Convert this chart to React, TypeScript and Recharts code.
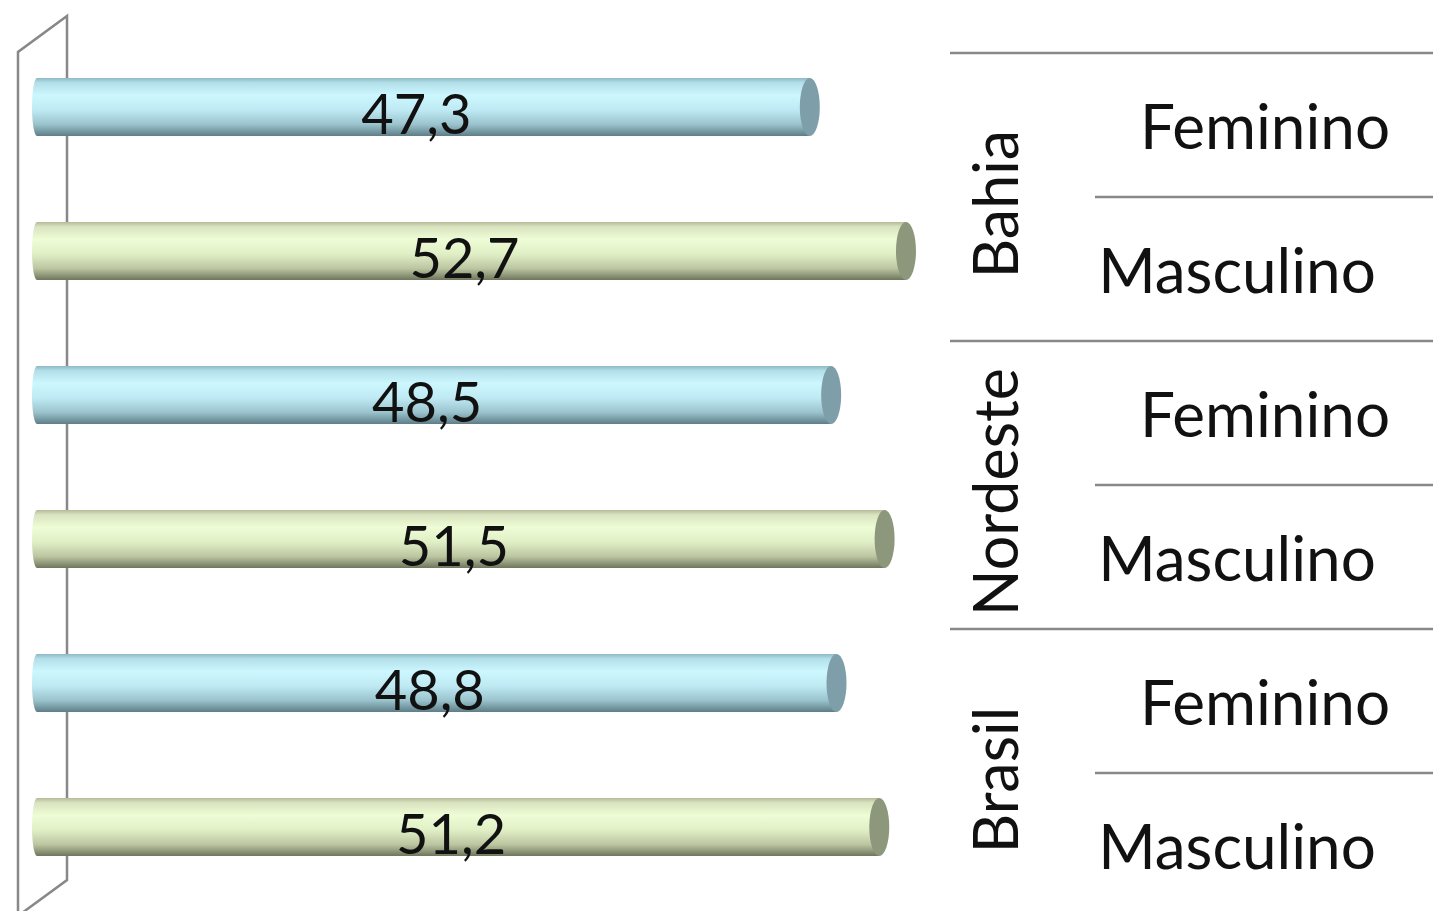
import { BarChart, Bar, XAxis, YAxis, LabelList } from 'recharts';

const regions = ['Bahia', 'Nordeste', 'Brasil'];
const sexes = ['Feminino', 'Masculino'];
const percentages = [47.3, 52.7, 48.5, 51.5, 48.8, 51.2];

const data = regions.flatMap((region, r) =>
  sexes.map((sex, s) => ({
    key: `${region}|${sex}`,
    region,
    sex,
    value: percentages[r * 2 + s],
  })),
);

const W = 1433;
const H = 911;
const FONT = 'Lato, "Open Sans", sans-serif';
const LINE = '#888888';

const CAP = { Feminino: '#7e9fa9', Masculino: '#8c977b' } as Record<string, string>;

// cylinder bar: shaded body, rounded back end, flat elliptic front cap
function Cylinder(props: any) {
  const { x, y, width, height, payload } = props;
  if (width == null || height == null) return null;
  const fem = payload.sex === 'Feminino';
  const xr = x + width;
  const cy = y + height / 2;
  const d = `M${x + 2},${y} L${xr},${y} L${xr},${y + height} L${x + 2},${y + height} A5,${height / 2} 0 0 1 ${x + 2},${y} Z`;
  return (
    <g>
      <path d={d} fill={fem ? 'url(#gradFem)' : 'url(#gradMasc)'} />
      <ellipse cx={xr} cy={cy} rx={10} ry={height / 2} fill={CAP[payload.sex]} />
    </g>
  );
}

function ValueLabel(props: any) {
  const { x, y, width, height, value } = props;
  return (
    <text
      x={x + width / 2 - 6}
      y={y + height / 2 + 27}
      textAnchor="middle"
      fontFamily={FONT}
      fontSize={56}
      fill="#111"
    >
      {String(value).replace('.', ',')}
    </text>
  );
}

// right-hand two-level category axis (sex inside region)
function CategoryTick(props: any) {
  const { y, payload } = props;
  const idx = data.findIndex((d) => d.key === payload.value);
  if (idx < 0) return null;
  const row = data[idx];
  const fem = row.sex === 'Feminino';
  return (
    <g>
      <text
        x={fem ? 1265 : 1237}
        y={y + 42}
        textAnchor="middle"
        fontFamily={FONT}
        fontSize={62}
        fill="#111"
      >
        {row.sex}
      </text>
      {fem && (
        <>
          <line x1={950} x2={W} y1={y - 54} y2={y - 54} stroke={LINE} strokeWidth={2.5} />
          <line x1={1095} x2={W} y1={y + 90} y2={y + 90} stroke={LINE} strokeWidth={2.5} />
          <text
            transform={`translate(1018, ${y + 72 + 25}) rotate(-90)`}
            textAnchor="middle"
            fontFamily={FONT}
            fontSize={61}
            fill="#111"
          >
            {row.region}
          </text>
        </>
      )}
      {idx === data.length - 1 && (
        <line x1={950} x2={W} y1={y + 90} y2={y + 90} stroke={LINE} strokeWidth={2.5} />
      )}
    </g>
  );
}

export default function App() {
  return (
    <div style={{ position: 'absolute', left: 0, top: 0, width: W, height: H, background: '#fff' }}>
      {/* 3D back wall */}
      <svg width={W} height={H} style={{ position: 'absolute', left: 0, top: 0 }}>
        <polyline
          points="18,913 18,52 67,16 67,880 22,913"
          fill="none"
          stroke={LINE}
          strokeWidth={2.5}
        />
      </svg>
      <div style={{ position: 'absolute', left: 0, top: 0 }}>
        <BarChart
          width={W}
          height={H}
          data={data}
          layout="vertical"
          margin={{ top: 35, right: 0, bottom: 12, left: 35 }}
        >
          <defs>
            <linearGradient id="gradFem" x1="0" y1="0" x2="0" y2="1">
              <stop offset="0%" stopColor="#8fb8c3" />
              <stop offset="8%" stopColor="#b2dfe9" />
              <stop offset="30%" stopColor="#cdf7ff" />
              <stop offset="55%" stopColor="#bfeaf3" />
              <stop offset="80%" stopColor="#9ac3cd" />
              <stop offset="100%" stopColor="#5e7e87" />
            </linearGradient>
            <linearGradient id="gradMasc" x1="0" y1="0" x2="0" y2="1">
              <stop offset="0%" stopColor="#b3ba98" />
              <stop offset="8%" stopColor="#d9e3bf" />
              <stop offset="30%" stopColor="#eefdd6" />
              <stop offset="55%" stopColor="#e1efc6" />
              <stop offset="80%" stopColor="#bcc6a1" />
              <stop offset="100%" stopColor="#6e765c" />
            </linearGradient>
          </defs>
          <XAxis type="number" hide domain={[3.8, 60]} />
          <YAxis
            type="category"
            dataKey="key"
            orientation="right"
            width={397}
            axisLine={false}
            tickLine={false}
            interval={0}
            tick={<CategoryTick />}
          />
          <Bar dataKey="value" barSize={58} shape={<Cylinder />} isAnimationActive={false}>
            <LabelList dataKey="value" content={<ValueLabel />} />
          </Bar>
        </BarChart>
      </div>
    </div>
  );
}
